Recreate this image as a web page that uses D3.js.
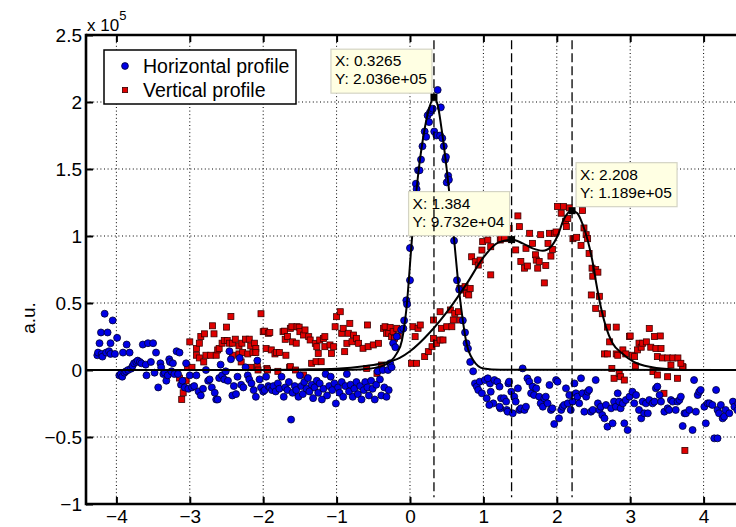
<!DOCTYPE html>
<html><head><meta charset="utf-8">
<script src="https://cdn.jsdelivr.net/npm/d3@7"></script>
<style>
body{margin:0;background:#fff}
svg{display:block;overflow:hidden}
text{font-family:"Liberation Sans",Arial,Helvetica,sans-serif;fill:#000}
</style>
</head><body>
<svg id="chart" width="736" height="527"></svg>
<script>
// ---------------- data ----------------
const xTicks = [-4,-3,-2,-1,0,1,2,3,4];
const xTickLabels = ["\u22124","\u22123","\u22122","\u22121","0","1","2","3","4"];
const yTicks = [-1,-0.5,0,0.5,1,1.5,2,2.5];
const yTickLabels = ["\u22121","\u22120.5","0","0.5","1","1.5","2","2.5"];
const yExponent = "5";
const yLabel = "a.u.";
const seriesNames = ["Horizontal profile","Vertical profile"];

// horizontal profile (blue), y in units of 1e5
const horizontalProfile = [
[-4.26,0.11],[-4.25,0.13],[-4.23,0.2],[-4.21,0.28],[-4.2,0.12],[-4.19,0.1],[-4.16,0.42],[-4.14,0.13],[-4.12,0.28],[-4.1,0.14],[-4.08,0.2],[-4.08,0.12],[-4.05,0.37],[-4.02,0.12],[-3.99,0.24],
[-3.96,-0.04],[-3.94,-0.03],[-3.92,-0.05],[-3.91,0.13],[-3.89,-0.02],[-3.87,-0.01],[-3.86,0.19],[-3.84,0.0],[-3.82,0.13],[-3.8,0.01],[-3.78,0.03],[-3.76,0.05],[-3.73,0.06],[-3.71,0.07],[-3.68,0.06],[-3.66,0.05],[-3.64,0.19],[-3.6,0.04],[-3.59,-0.04],[-3.57,0.2],[-3.53,0.06],[-3.5,0.2],[-3.48,-0.02],[-3.46,0.13],[-3.43,-0.13],[-3.4,0.05],[-3.39,0.02],[-3.36,-0.03],[-3.34,-0.02],[-3.32,-0.08],[-3.3,-0.04],[-3.28,0.08],[-3.27,0.06],[-3.25,-0.01],[-3.23,0.05],[-3.21,-0.03],[-3.18,0.14],[-3.16,-0.03],[-3.14,0.13],[-3.12,-0.11],[-3.1,-0.08],[-3.07,-0.13],[-3.05,0.05],[-3.02,-0.14],[-3.0,-0.04],[-2.97,-0.13],[-2.94,-0.12],[-2.91,-0.04],[-2.88,-0.16],[-2.85,-0.19],[-2.82,-0.14],[-2.78,0.0],[-2.75,-0.08],[-2.73,-0.07],[-2.7,-0.13],[-2.66,-0.17],[-2.64,-0.22],[-2.62,-0.22],[-2.6,-0.06],[-2.58,0.04],[-2.56,-0.04],[-2.53,-0.07],[-2.51,-0.01],[-2.48,-0.08],[-2.46,0.14],[-2.44,0.08],[-2.42,-0.19],[-2.4,-0.12],[-2.37,-0.18],[-2.35,-0.05],[-2.32,0.09],[-2.3,-0.11],[-2.27,-0.13],[-2.24,0.02],[-2.21,-0.04],[-2.19,-0.07],[-2.16,-0.1],[-2.13,-0.15],[-2.1,-0.2],[-2.08,0.07],[-2.05,-0.07],[-2.03,-0.13],[-2.0,-0.16],[-1.98,-0.15],[-1.96,-0.05],[-1.93,-0.12],[-1.91,-0.13],[-1.88,-0.15],[-1.86,-0.12],[-1.83,-0.16],[-1.8,-0.1],[-1.78,-0.14],[-1.75,-0.05],[-1.72,-0.2],[-1.7,-0.13],[-1.67,-0.15],[-1.65,-0.09],[-1.62,-0.37],[-1.6,-0.17],[-1.57,-0.12],[-1.55,-0.15],[-1.52,-0.2],[-1.5,-0.04],
[-1.48,-0.12],[-1.46,-0.18],[-1.44,-0.09],[-1.41,-0.14],[-1.39,-0.06],[-1.37,-0.16],[-1.34,-0.11],[-1.32,-0.21],[-1.3,-0.13],[-1.27,-0.08],[-1.25,-0.17],[-1.23,-0.1],[-1.2,-0.22],[-1.18,-0.14],[-1.15,-0.03],[-1.13,-0.19],[-1.1,-0.12],[-1.08,-0.05],[-1.06,-0.15],[-1.03,-0.1],[-1.01,-0.25],[-0.98,-0.13],[-0.96,-0.17],[-0.93,-0.09],[-0.91,-0.2],[-0.88,-0.12],[-0.86,-0.03],[-0.83,-0.16],[-0.81,-0.11],[-0.78,-0.2],[-0.76,-0.14],[-0.73,-0.09],[-0.71,-0.18],[-0.68,-0.12],[-0.66,-0.22],[-0.63,-0.15],[-0.61,-0.09],[-0.58,-0.13],[-0.56,-0.19],[-0.53,-0.08],[-0.51,-0.14],[-0.48,-0.22],[-0.46,-0.11],[-0.44,-0.01],[-0.41,-0.07],[-0.39,-0.19],[-0.37,0.0],[-0.35,-0.13],
[-0.32,-0.2],[-0.3,0.0],[-0.29,-0.15],[-0.27,0.05],[-0.25,0.02],[-0.23,0.2],[-0.2,0.17],[-0.18,0.25],[-0.12,0.3],[-0.09,0.31],[-0.08,0.37],[-0.05,0.52],[-0.04,0.49],[0.0,0.67],[0.0,0.91],
[0.08,1.39],[0.09,1.35],[0.11,1.49],[0.13,1.49],[0.15,1.57],[0.17,1.67],[0.2,1.78],[0.22,1.74],[0.24,1.9],[0.26,1.85],[0.27,1.92],[0.29,1.94],[0.31,1.95],[0.33,1.78],[0.36,1.75],[0.377,2.09],[0.42,1.96],[0.41,1.75],[0.44,1.73],[0.46,1.67],[0.48,1.57],[0.49,1.59],[0.5,1.4],[0.52,1.45],[0.53,1.42],[0.6,0.965],[0.64,0.67],[0.67,0.6],[0.72,0.37],[0.75,0.28],[0.77,0.2],[0.79,0.16],[0.82,0.06],[0.86,-0.01],
[0.885,-0.1],[0.91,-0.124],[0.93,-0.149],[0.95,-0.087],[0.98,-0.174],[1.02,-0.075],[1.045,-0.211],[1.09,-0.1],[1.135,-0.249],[1.23,-0.286],[1.32,-0.298],[1.34,-0.1],
[1.06,-0.062],[1.1,-0.162],[1.08,-0.261],[1.15,-0.075],[1.19,-0.087],[1.22,-0.124],[1.22,-0.274],[1.24,-0.211],[1.28,-0.211],[1.31,-0.236],[1.33,-0.311],[1.35,-0.087],[1.38,-0.162],[1.4,-0.323],[1.42,-0.199],[1.47,-0.137],[1.44,-0.236],[1.49,-0.298],[1.51,-0.286],[1.535,0.012],[1.56,-0.298],[1.58,-0.274],[1.6,-0.062],[1.625,-0.087],[1.65,-0.174],[1.67,-0.124],[1.69,-0.187],[1.72,-0.137],[1.74,-0.075],[1.76,-0.199],[1.78,-0.249],[1.81,-0.274],[1.83,-0.211],[1.85,-0.199],[1.875,-0.249],[1.9,-0.112],[1.92,-0.298],[1.94,-0.286],[1.965,-0.403],[1.99,-0.075],[2.01,-0.087],[2.03,-0.361],[2.06,-0.298],[2.08,-0.274],[2.1,-0.261],[2.125,-0.137],[2.15,-0.249],[2.17,-0.187],[2.19,-0.298],[2.215,-0.236],[2.24,-0.1],[2.26,-0.174],[2.28,-0.199],[2.305,-0.249],[2.33,-0.062],[2.35,-0.174],[2.375,-0.311],[2.4,-0.199],[2.42,-0.162],[2.44,-0.149],[2.465,-0.311],[2.49,-0.298],[2.53,-0.075],[2.56,-0.249],[2.58,-0.298],[2.6,-0.274],[2.62,-0.336],[2.65,-0.361],[2.67,-0.261],[2.69,-0.423],[2.74,-0.286],[2.76,-0.398],[2.78,-0.236],[2.805,-0.274],[2.83,-0.174],[2.85,-0.236],[2.87,-0.286],[2.9,-0.249],[2.92,-0.398],[2.94,-0.224],[2.965,-0.448],[2.99,-0.199],[3.03,-0.162],[3.055,-0.249],[3.08,-0.187],[3.12,-0.298],[3.15,-0.361],[3.17,-0.236],[3.19,-0.323],[3.215,-0.249],[3.24,-0.323],[3.26,-0.224],[3.305,-0.249],[3.33,-0.236],[3.35,-0.137],[3.37,-0.124],[3.4,-0.187],[3.42,-0.236],[3.465,-0.311],[3.51,-0.286],[3.53,-0.298],[3.555,-0.224],[3.58,-0.236],[3.62,-0.298],[3.645,-0.236],[3.67,-0.224],[3.69,-0.199],[3.715,-0.418],[3.74,-0.323],[3.76,-0.323],[3.805,-0.298],[3.85,-0.448],[3.87,-0.075],[3.895,-0.311],[3.92,-0.187],[3.94,-0.162],[3.96,-0.149],[4.01,-0.274],[4.03,-0.398],[4.055,-0.249],[4.08,-0.249],[4.12,-0.261],[4.17,-0.149],[4.19,-0.298],[4.21,-0.323],[4.235,-0.261],[4.145,-0.51],[4.19,-0.51],[4.26,-0.361],[4.28,-0.348],[4.3,-0.298],[4.35,-0.323],[4.4,-0.236],[4.42,-0.274],[4.46,-0.3],[4.47,-0.25]
];

// vertical profile (red), y in units of 1e5
const verticalProfile = [
[-3.14,-0.06],[-3.11,-0.22],[-3.09,-0.17],[-3.05,-0.08],[-3.03,0.02],[-3.0,0.21],[-2.97,0.02],[-2.91,0.16],[-2.91,0.11],[-2.87,0.2],[-2.87,0.09],[-2.85,0.25],[-2.81,0.06],[-2.8,0.27],[-2.78,0.11],[-2.72,0.11],[-2.69,0.33],[-2.67,0.27],[-2.64,0.11],[-2.62,0.15],[-2.6,0.16],[-2.56,0.2],[-2.53,0.22],[-2.5,0.32],[-2.49,0.22],[-2.46,0.2],[-2.44,0.4],[-2.42,0.2],[-2.42,0.11],[-2.38,0.23],[-2.33,0.18],[-2.33,0.12],[-2.3,0.06],[-2.29,0.2],[-2.28,0.13],[-2.24,0.23],[-2.21,0.12],[-2.19,0.23],[-2.17,0.18],[-2.17,0.02],[-2.14,0.13],[-2.12,0.2],[-2.1,0.16],[-2.1,0.13],[-2.08,0.025],[-2.07,0.0],[-2.03,0.42],[-2.0,0.286],[-1.98,0.29],[-1.96,0.16],[-1.95,0.012],[-1.94,0.0],[-1.93,0.274],[-1.91,0.28],[-1.89,0.15],[-1.84,0.12],[-1.82,0.13],[-1.8,-0.01],[-1.78,0.13],[-1.73,0.286],[-1.71,0.29],[-1.7,0.229],[-1.69,0.11],[-1.67,0.25],[-1.64,0.02],[-1.63,0.311],[-1.63,0.025],[-1.61,0.323],[-1.6,0.21],[-1.56,0.0],[-1.55,0.2],[-1.54,0.323],[-1.51,0.32],[-1.5,0.286],[-1.45,0.261],[-1.45,-0.037],[-1.43,0.299],[-1.38,0.249],[-1.36,0.224],[-1.34,0.05],[-1.29,0.199],[-1.28,0.062],[-1.27,0.174],[-1.25,0.124],[-1.23,0.224],[-1.21,0.062],[-1.18,0.236],[-1.16,0.249],[-1.16,0.174],[-1.09,0.187],[-1.07,0.124],[-1.04,0.174],[-1.02,0.323],[-1.0,0.398],[-0.95,0.435],[-0.93,0.274],[-0.91,0.311],[-0.89,0.137],[-0.86,0.199],[-0.84,0.274],[-0.82,0.348],[-0.79,0.211],[-0.77,0.261],[-0.73,0.236],[-0.7,0.199],[-0.64,0.162],[-0.58,0.336],[-0.59,0.012],[-0.57,0.174],[-0.5,0.187],[-0.45,-0.025],[-0.43,0.199],[-0.39,0.037],[-0.36,0.311],[-0.34,0.323],[-0.32,0.274],[-0.29,0.274],[-0.27,0.318],[-0.25,0.249],[-0.23,0.286],[-0.21,0.236],[-0.18,0.311],[-0.16,0.255],
[0.02,0.05],[0.04,0.323],[0.07,0.249],[0.09,0.05],[0.11,0.311],[0.14,0.336],[0.2,0.1],[0.25,0.137],[0.3,0.174],[0.32,0.236],[0.32,0.373],[0.36,0.199],[0.41,0.224],[0.41,0.435],[0.43,0.311],[0.45,0.224],[0.5,0.323],[0.55,0.448],[0.57,0.323],[0.59,0.373],[0.61,0.423],[0.66,0.435],[0.68,0.373],[0.68,0.609],[0.73,0.597],[0.75,0.622],[0.77,0.572],[0.8,0.56],[0.82,0.609],[0.84,0.845],[0.89,0.808],[0.93,0.783],[0.955,0.82],[0.98,0.895],[0.99,0.958],[1.06,0.97],[1.1,0.92],[1.1,0.71],[1.23,0.97],[1.24,0.983],[1.29,0.98],[1.35,1.057],[1.44,0.896],[1.47,1.15],[1.49,1.07],[1.51,0.81],[1.56,0.76],[1.58,0.908],[1.6,0.776],[1.63,1.02],[1.67,0.945],[1.71,0.86],[1.72,0.82],[1.74,0.76],[1.76,0.81],[1.78,1.01],[1.83,0.65],[1.85,0.78],[1.88,0.945],[1.9,1.02],[1.92,0.85],[1.94,0.9],[1.97,1.02],[1.99,1.03],[2.01,1.22],[2.06,1.17],[2.09,1.22],[2.12,1.11],[2.13,1.07],[2.15,1.13],[2.17,1.21],[2.22,0.98],[2.27,0.99],[2.33,0.93],[2.35,1.19],[2.37,1.06],[2.4,1.01],[2.42,0.98],[2.44,0.87],[2.48,0.76],[2.49,0.7],[2.53,0.75],[2.56,0.73],[2.47,0.56],[2.58,0.55],[2.53,0.46],[2.62,0.42],[2.69,0.32],[2.72,0.21],[2.81,0.32],[2.65,0.12],[2.69,0.12],[2.81,0.12],[2.83,0.11],[2.9,0.15],[2.94,0.12],[2.99,0.25],[3.0,0.254],[3.03,0.11],[3.06,0.1],[3.1,0.15],[3.12,0.2],[3.15,0.17],[3.17,0.2],[3.22,0.21],[3.26,0.31],[3.28,0.17],[3.33,0.25],[3.35,0.16],[3.37,0.1],[3.41,0.254],[3.42,0.16],[3.44,0.09],[3.51,0.09],[3.58,0.09],[3.65,0.09],[3.72,0.02],
[2.75,0.012],[2.78,-0.062],[2.85,-0.025],[2.87,-0.05],[2.92,-0.075],[3.07,0.03],[3.31,-0.012],[3.37,-0.037],[3.51,-0.05],[3.46,-0.174],[3.645,-0.062],[3.715,0.025],[3.555,0.037],[3.69,0.05],[3.745,-0.6]
];

// fitted curves
const horizontalFit = [
[-4.5,0],[-1.0,0],[-0.82,0.002],[-0.6,0.008],[-0.41,0.025],[-0.27,0.062],[-0.18,0.124],[-0.11,0.22],[-0.05,0.45],[0.03,1.0],[0.12,1.5],[0.2,1.8],[0.27,1.97],[0.3265,2.036],[0.38,1.97],[0.44,1.76],[0.5,1.5],[0.55,1.25],[0.6,0.98],[0.65,0.69],[0.7,0.45],[0.77,0.2],[0.86,0.075],[1.0,0.012],[1.23,0.002],[4.6,0]
];
const verticalFit = [
[-4.5,0],[-2.2,0],[-1.5,0.004],[-1.0,0.01],[-0.6,0.03],[-0.37,0.05],[-0.14,0.09],[0.0,0.14],[0.27,0.28],[0.54,0.46],[0.78,0.65],[1.0,0.84],[1.2,0.95],[1.384,0.9732],[1.535,0.945],[1.67,0.908],[1.81,0.89],[1.92,0.92],[2.01,1.0],[2.1,1.13],[2.208,1.189],[2.28,1.17],[2.35,1.09],[2.42,0.97],[2.49,0.8],[2.53,0.67],[2.6,0.47],[2.67,0.32],[2.76,0.2],[2.9,0.12],[3.05,0.06],[3.3,0.02],[3.6,0.004],[3.9,0],[4.6,0]
];

// data tips and dashed guide lines
const tipX = [0.3265, 1.384, 2.208];
const tipY = [2.036, 0.9732, 1.189];
const tipText = [["X: 0.3265","Y: 2.036e+05"],["X: 1.384","Y: 9.732e+04"],["X: 2.208","Y: 1.189e+05"]];
const tipSide = ["left","left","right"];
const guideSpan = [-0.95, 2.46];

// ---------------- layout ----------------
const L = 86, T = 35, B = 504, W = 736;
const xScale = d3.scaleLinear().domain([-4.414, 4.5]).range([L, 740.3]);
const yScale = d3.scaleLinear().domain([-1, 2.5]).range([B, T]);

const svg = d3.select("#chart");
svg.append("defs").append("clipPath").attr("id","plot")
  .append("rect").attr("x",L).attr("y",T).attr("width",W-L).attr("height",B-T);

const plot = svg.append("g").attr("clip-path","url(#plot)");

// grid
plot.append("g").selectAll("line").data(xTicks).join("line")
  .attr("x1",d=>xScale(d)).attr("x2",d=>xScale(d)).attr("y1",T).attr("y2",B)
  .attr("stroke","#000").attr("stroke-width",1).attr("stroke-dasharray","1,2.6");
plot.append("g").selectAll("line").data(yTicks.filter(d=>d>-1 && d<2.5)).join("line")
  .attr("x1",L).attr("x2",W).attr("y1",d=>yScale(d)).attr("y2",d=>yScale(d))
  .attr("stroke","#000").attr("stroke-width",1).attr("stroke-dasharray","1,2.6");

// markers: vertical (red squares) then horizontal (blue circles)
const sq = 6;
plot.append("g").selectAll("rect").data(verticalProfile).join("rect")
  .attr("x",d=>xScale(d[0])-sq/2).attr("y",d=>yScale(d[1])-sq/2)
  .attr("width",sq).attr("height",sq)
  .attr("fill","#e00000").attr("stroke","#3a0000").attr("stroke-width",0.8);
plot.append("g").selectAll("circle").data(horizontalProfile).join("circle")
  .attr("cx",d=>xScale(d[0])).attr("cy",d=>yScale(d[1])).attr("r",3.5)
  .attr("fill","#0000e6").attr("stroke","#000030").attr("stroke-width",0.8);

// fits
const line = d3.line().x(d=>xScale(d[0])).y(d=>yScale(d[1])).curve(d3.curveMonotoneX);
[verticalFit, horizontalFit].forEach(f=>{
  plot.append("path").attr("d",line(f)).attr("fill","none")
    .attr("stroke","#000").attr("stroke-width",2);
});

// data tip boxes
const boxW = 101, boxH = 44;
const tips = plot.append("g");
tipX.forEach((x,i)=>{
  const px = xScale(x), py = yScale(tipY[i]);
  const bx = tipSide[i]==="left" ? px-boxW-2 : px+4;
  const by = py-boxH-4;
  const g = tips.append("g");
  g.append("rect").attr("x",bx).attr("y",by).attr("width",boxW).attr("height",boxH)
    .attr("fill","#ffffe3").attr("stroke","#d4d4c4").attr("stroke-width",1.2);
  tipText[i].forEach((t,j)=>{
    g.append("text").attr("x",bx+4).attr("y",by+17+j*18).attr("font-size",15.5).text(t);
  });
});

// dashed guide lines
plot.append("g").selectAll("line").data(tipX).join("line")
  .attr("x1",d=>xScale(d)).attr("x2",d=>xScale(d))
  .attr("y1",yScale(guideSpan[1])).attr("y2",yScale(guideSpan[0]))
  .attr("stroke","#000").attr("stroke-width",1.3).attr("stroke-dasharray","9,4");

// tip markers
plot.append("g").selectAll("rect").data(tipX).join("rect")
  .attr("x",(d)=>xScale(d)-3.5).attr("y",(d,i)=>yScale(tipY[i])-3.5)
  .attr("width",7).attr("height",7).attr("fill","#000");

// axes
const fs = 19;
const ax = svg.append("g").attr("transform",`translate(0,${B})`)
  .call(d3.axisBottom(xScale).tickValues(xTicks).tickFormat((d,i)=>xTickLabels[i])
    .tickSizeInner(-7).tickSizeOuter(0).tickPadding(7));
const at = svg.append("g").attr("transform",`translate(0,${T})`)
  .call(d3.axisTop(xScale).tickValues(xTicks).tickFormat("").tickSizeInner(-7).tickSizeOuter(0));
const ay = svg.append("g").attr("transform",`translate(${L},0)`)
  .call(d3.axisLeft(yScale).tickValues(yTicks).tickFormat((d,i)=>yTickLabels[i])
    .tickSizeInner(-7).tickSizeOuter(0).tickPadding(4));
[ax,at,ay].forEach(a=>{
  a.select(".domain").remove();
  a.selectAll(".tick line").attr("stroke","#000").attr("stroke-width",2);
  a.selectAll("text").attr("font-size",fs).attr("font-family","Liberation Sans, Arial, sans-serif").attr("fill","#000");
});
ax.selectAll("text").attr("dy",null).attr("y",null).attr("transform","translate(0,18.5)");
at.selectAll("text").remove();
svg.append("line").attr("x1",L).attr("x2",W).attr("y1",B).attr("y2",B).attr("stroke","#000").attr("stroke-width",2.6);
svg.append("line").attr("x1",L).attr("x2",W).attr("y1",T).attr("y2",T).attr("stroke","#000").attr("stroke-width",2.6);
svg.append("line").attr("x1",L).attr("x2",L).attr("y1",T-1.3).attr("y2",B+1.3).attr("stroke","#000").attr("stroke-width",2.6);

// exponent
const ex = svg.append("text").attr("x",87).attr("y",31).attr("font-size",17);
ex.append("tspan").text("x 10");
ex.append("tspan").attr("font-size",13).attr("dy",-11).text(yExponent);

// y label
svg.append("text").attr("transform","translate(35,318) rotate(-90)")
  .attr("text-anchor","middle").attr("font-size",fs).text(yLabel);

// legend
const lg = svg.append("g");
lg.append("rect").attr("x",104).attr("y",50).attr("width",192).attr("height",54)
  .attr("fill","#fff").attr("stroke","#000").attr("stroke-width",1.5);
lg.append("circle").attr("cx",125).attr("cy",66).attr("r",3.4)
  .attr("fill","#0000e6").attr("stroke","#000030").attr("stroke-width",0.8);
lg.append("rect").attr("x",122.4).attr("y",87.4).attr("width",5.2).attr("height",5.2)
  .attr("fill","#e00000").attr("stroke","#3a0000").attr("stroke-width",0.8);
seriesNames.forEach((n,i)=>{
  lg.append("text").attr("x",143).attr("y",73+i*24).attr("font-size",19.5).text(n);
});
</script>
</body></html>
